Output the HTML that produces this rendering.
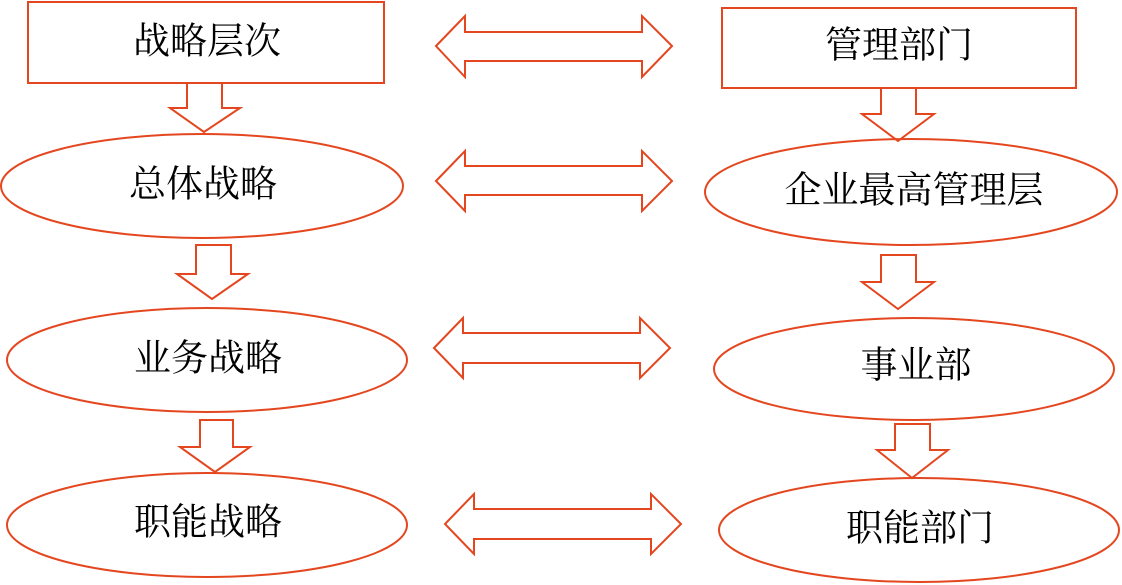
<!DOCTYPE html>
<html><head><meta charset="utf-8"><style>
html,body{margin:0;padding:0;background:#fff;}
svg{display:block;}
text{font-family:"Liberation Serif","Noto Serif CJK SC",serif;font-size:37px;fill:#000;text-anchor:middle;dominant-baseline:central;}
</style></head><body>
<svg width="1122" height="585" viewBox="0 0 1122 585" xmlns="http://www.w3.org/2000/svg">
<g fill="none" stroke="#e4471f" stroke-width="2">
<rect x="28" y="2" width="356" height="81"/>
<rect x="722" y="8" width="354" height="80"/>
<ellipse cx="202" cy="186" rx="201" ry="52"/>
<ellipse cx="207" cy="360" rx="200" ry="52"/>
<ellipse cx="207" cy="525" rx="200" ry="52"/>
<ellipse cx="911" cy="192" rx="206" ry="53"/>
<ellipse cx="914" cy="369" rx="200" ry="51"/>
<ellipse cx="919" cy="530" rx="200" ry="52"/>
<polygon points="187,83 222,83 222,108 240,108 204,132 170,108 187,108"/>
<polygon points="196,245 231,245 231,274 248,274 212,299 177,274 196,274"/>
<polygon points="200,420 233,420 233,447 250,447 215,472 180,447 200,447"/>
<polygon points="881,88 916,88 916,114 934,114 898,141 862,114 881,114"/>
<polygon points="881,255 916,255 916,282 934,282 898,309 862,282 881,282"/>
<polygon points="895,424 930,424 930,450 948,450 912,478 877,450 895,450"/>
<polygon points="436,46 465,16 465,32 642,32 642,16 672,46 642,77 642,61 465,61 465,77"/>
<polygon points="436,181 465,151 465,166 642,166 642,151 672,181 642,211 642,195 465,195 465,211"/>
<polygon points="434,348 463,318 463,333 640,333 640,318 670,348 640,378 640,363 463,363 463,378"/>
<polygon points="445,524 474,494 474,509 651,509 651,494 681,524 651,554 651,539 474,539 474,554"/>
</g>
<text x="207" y="42">战略层次</text>
<text x="899" y="46">管理部门</text>
<text x="203" y="185">总体战略</text>
<text x="208" y="359">业务战略</text>
<text x="208" y="523">职能战略</text>
<text x="914" y="191">企业最高管理层</text>
<text x="916" y="366">事业部</text>
<text x="920" y="529">职能部门</text>
</svg>
</body></html>
